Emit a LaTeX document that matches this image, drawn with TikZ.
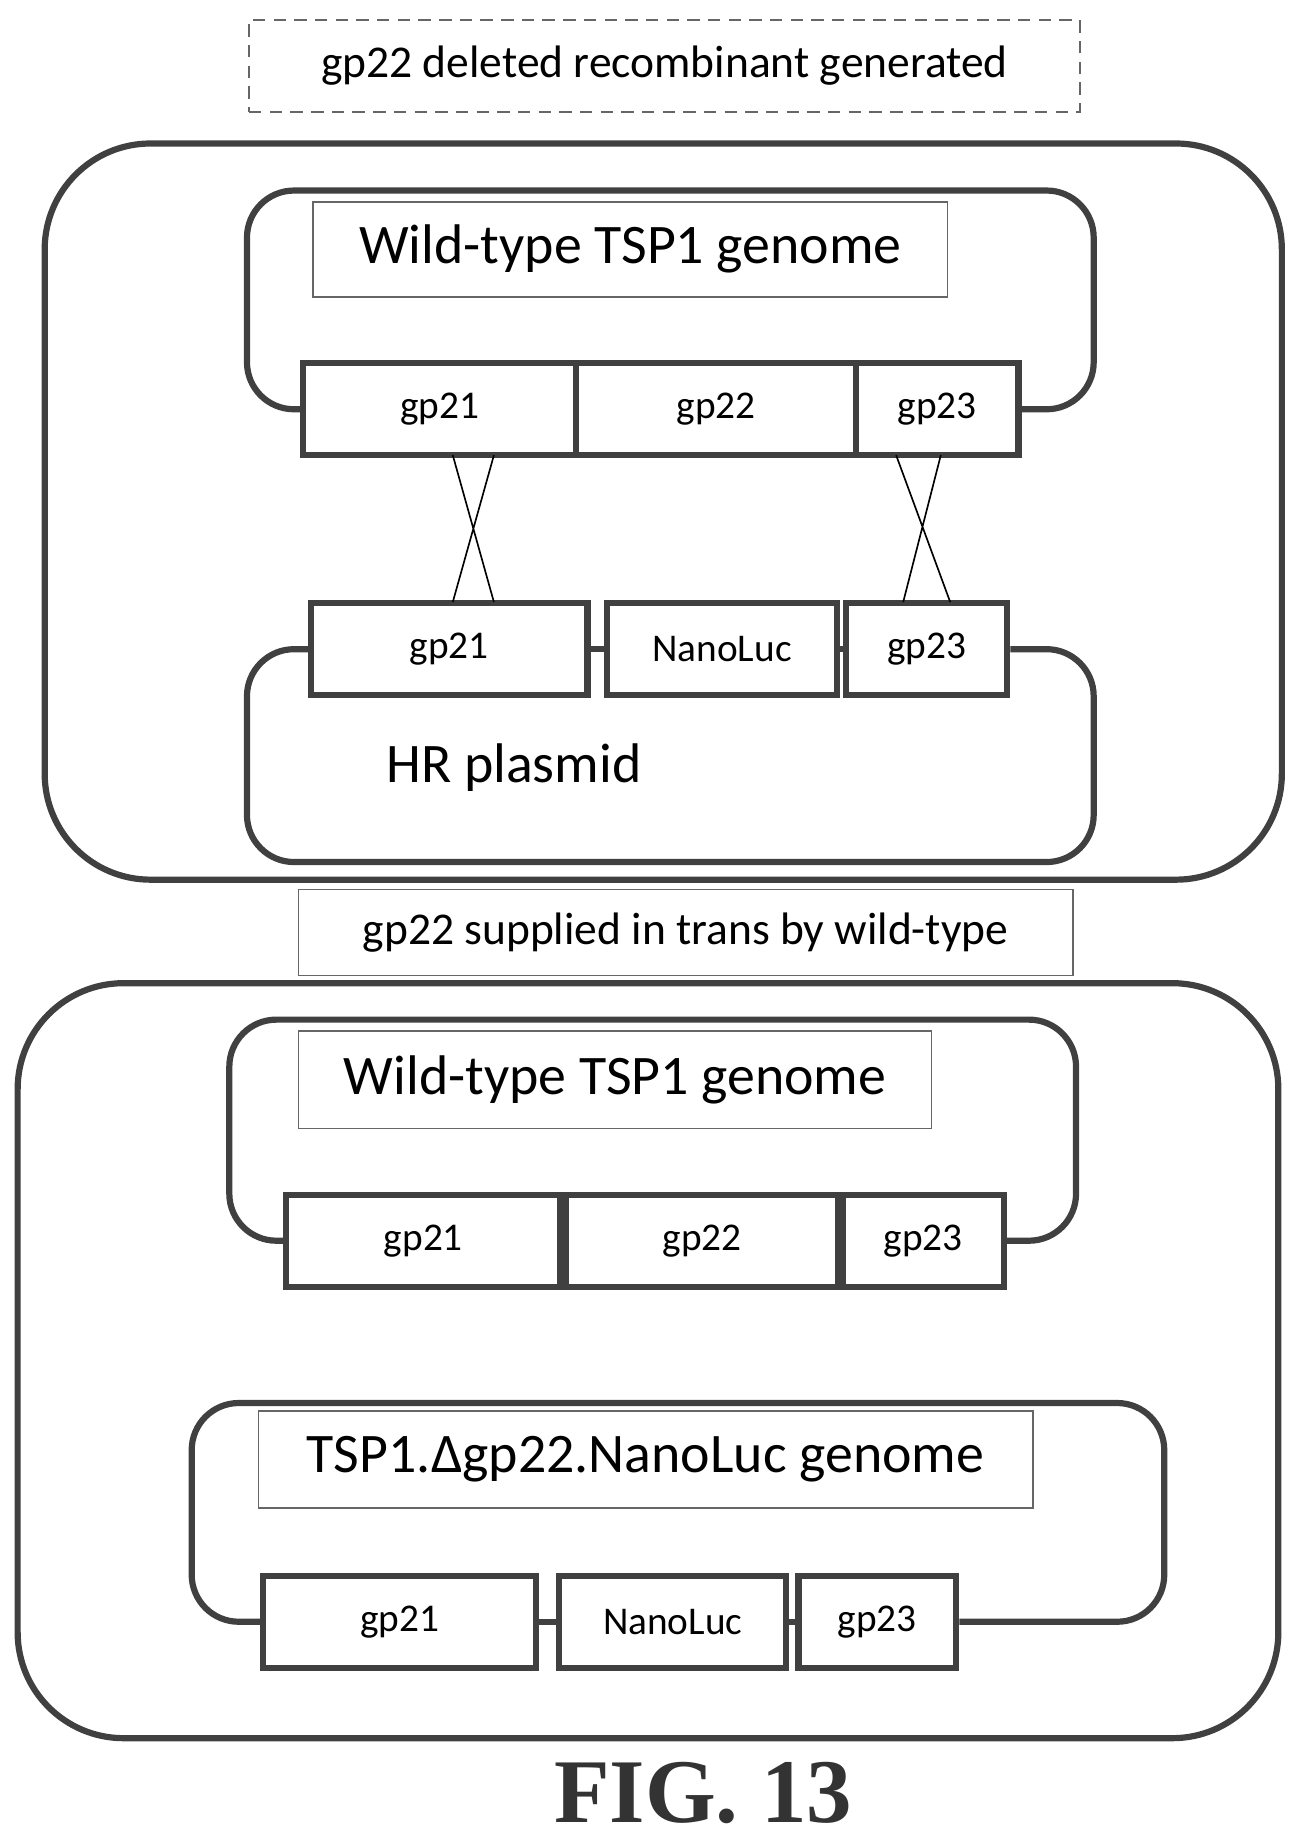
\documentclass[tikz,border=0pt]{standalone}
\usepackage{fontspec}
\setmainfont{Carlito}
\newfontfamily\figfont{Liberation Serif}
\usetikzlibrary{positioning}
\begin{document}
\begin{tikzpicture}[x=0.01cm,y=-0.01cm,
	thickline/.style = {draw=black!75, line width=1.5pt},
	gene/.style  = {thickline, rectangle, minimum height=0.78cm, font=\fontsize{9.5}{11}\selectfont},
	label/.style = {draw=black!60, thin, rectangle, inner sep=0pt},
	outer/.style = {thickline, rounded corners=0.9cm},
	loop/.style  = {thickline, rounded corners=0.4cm}]

	\useasboundingbox (0,0) rectangle (1110,1568);

	% header labels
	\node[label, densely dashed, minimum width=7.06cm, minimum height=0.78cm, font=\fontsize{11}{13}\selectfont] (hdr) at (565,56) {gp22 deleted recombinant generated};
	\node[label, minimum width=6.58cm, minimum height=0.73cm, font=\fontsize{11}{13}\selectfont] (mid) at (583,793) {gp22 supplied in trans by wild-type};

	% outer boxes
	\draw[outer] (38,122) rectangle (1090,748);
	\draw[outer] (15,836) rectangle (1087,1478);

	% panel 1, wild-type genome
	\node[gene, minimum width=2.32cm] (a21) at (374,348) {gp21};
	\node[gene, minimum width=2.38cm] (a22) at (609,348) {gp22};
	\node[gene, minimum width=1.38cm] (a23) at (797,348) {gp23};
	\draw[loop] (a21.west) -- (210,348) -- (210,162) -- (930,162) -- (930,348) -- (a23.east);
	\node[label, minimum width=5.39cm, minimum height=0.81cm, font=\fontsize{13.5}{16}\selectfont] (wt1) at (536,212) {Wild-type TSP1 genome};

	% panel 1, HR plasmid
	\node[gene, minimum width=2.35cm] (p21) at (382,552) {gp21};
	\node[gene, minimum width=1.95cm] (pnl) at (614,552) {NanoLuc};
	\node[gene, minimum width=1.37cm] (p23) at (788,552) {gp23};
	\draw[thickline] (p21.east) -- (pnl.west) (pnl.east) -- (p23.west);
	\draw[loop] (p21.west) -- (210,552) -- (210,733) -- (930,733) -- (930,552) -- (p23.east);
	\node[font=\fontsize{13.5}{16}\selectfont] (hr) at (437,653) {HR plasmid};

	% crossovers
	\draw[thin] (385,387) -- (420,512) (420,387) -- (385,512);
	\draw[thin] (762,387) -- (808,512) (800,387) -- (768,512);

	% panel 2, wild-type genome
	\node[gene, minimum width=2.33cm] (b21) at (360,1055) {gp21};
	\node[gene, minimum width=2.32cm] (b22) at (597,1055) {gp22};
	\node[gene, minimum width=1.37cm] (b23) at (785,1055) {gp23};
	\draw[loop] (b21.west) -- (195,1055) -- (195,867) -- (915,867) -- (915,1055) -- (b23.east);
	\node[label, minimum width=5.38cm, minimum height=0.83cm, font=\fontsize{13.5}{16}\selectfont] (wt2) at (523,918) {Wild-type TSP1 genome};

	% panel 2, recombinant genome
	\node[gene, minimum width=2.32cm] (c21) at (340,1379) {gp21};
	\node[gene, minimum width=1.93cm] (cnl) at (572,1379) {NanoLuc};
	\node[gene, minimum width=1.34cm] (c23) at (746,1379) {gp23};
	\draw[thickline] (c21.east) -- (cnl.west) (cnl.east) -- (c23.west);
	\draw[loop] (c21.west) -- (163,1379) -- (163,1193) -- (990,1193) -- (990,1379) -- (c23.east);
	\node[label, minimum width=6.58cm, minimum height=0.82cm, font=\fontsize{13.5}{16}\selectfont] (rec) at (549,1241) {TSP1.Δgp22.NanoLuc genome};

	\node[font=\figfont\fontsize{22}{26}\selectfont\bfseries, text=black!80] (fig) at (598,1525) {FIG. 13};
\end{tikzpicture}
\end{document}
